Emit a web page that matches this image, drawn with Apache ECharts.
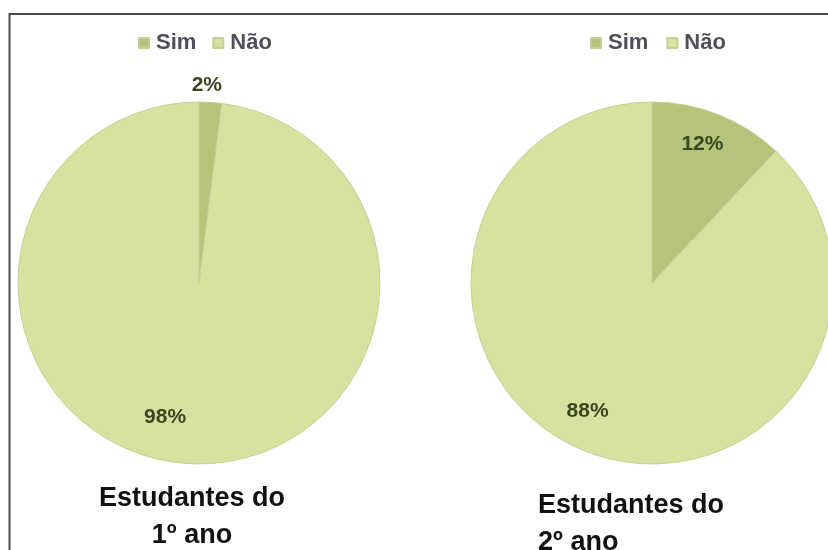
<!DOCTYPE html>
<html><head><meta charset="utf-8">
<script src="https://cdn.jsdelivr.net/npm/echarts@6/dist/echarts.min.js"></script>
<style>html,body{margin:0;padding:0;background:#fff}#c{width:828px;height:550px}</style>
</head><body><div id="c"></div>
<script>
const categories = ['Sim', 'Não'];
const ano1Values = [2, 98];
const ano2Values = [12, 88];
const titles = ['Estudantes do\n1º ano', 'Estudantes do\n2º ano'];

const colors = ['#b6c37b', '#d8e1a0'];
const FONT = 'Liberation Sans, Arial, sans-serif';
const labelStyle = {fontFamily: FONT, fontSize: 21, color: '#3a4520', fontWeight: 'bold'};

function mkData(vals, offsets) {
  return categories.map((n, i) => ({
    name: n, value: vals[i],
    itemStyle: {color: colors[i]},
    label: Object.assign({offset: offsets[i]}, labelStyle)
  }));
}

const legendText = {fontFamily: FONT, fontSize: 22, fontWeight: 'bold', color: '#4e4f58', padding: [0, 0, 0, 2]};
const titleText = {fontFamily: FONT, fontSize: 27, fontWeight: 'bold', color: '#111', lineHeight: 37};

const chart = echarts.init(document.getElementById('c'));
chart.setOption({
  animation: false,
  color: colors,
  graphic: [{
    type: 'rect', shape: {x: 9.5, y: 14, width: 830, height: 560},
    style: {fill: 'none', stroke: '#4a4a4a', lineWidth: 2}, silent: true
  }],
  title: [{
    text: titles[0], left: 187, top: 475, textAlign: 'center', textStyle: titleText
  }, {
    text: titles[1], left: 533, top: 482, textStyle: titleText
  }],
  legend: [{
    data: categories, left: 133, top: 27, icon: 'rect', itemWidth: 10, itemHeight: 10, itemGap: 16,
    textStyle: legendText
  }, {
    data: categories, left: 585, top: 27, icon: 'rect', itemWidth: 10, itemHeight: 10, itemGap: 18,
    textStyle: legendText
  }],
  series: [{
    type: 'pie', center: [199, 283], radius: [0, 181], startAngle: 90, clockwise: true,
    label: {show: true, position: 'inside', formatter: '{c}%'},
    labelLine: {show: false},
    itemStyle: {borderColor: '#c6cf92', borderWidth: 1},
    emphasis: {disabled: true},
    data: mkData(ano1Values, [[2, -104], [-28, 41]])
  }, {
    type: 'pie', center: [652, 283], radius: [0, 181], startAngle: 90, clockwise: true,
    label: {show: true, position: 'inside', formatter: '{c}%'},
    labelLine: {show: false},
    itemStyle: {borderColor: '#c6cf92', borderWidth: 1},
    emphasis: {disabled: true},
    data: mkData(ano2Values, [[16, -52], [-30, 41]])
  }]
});
</script></body></html>
